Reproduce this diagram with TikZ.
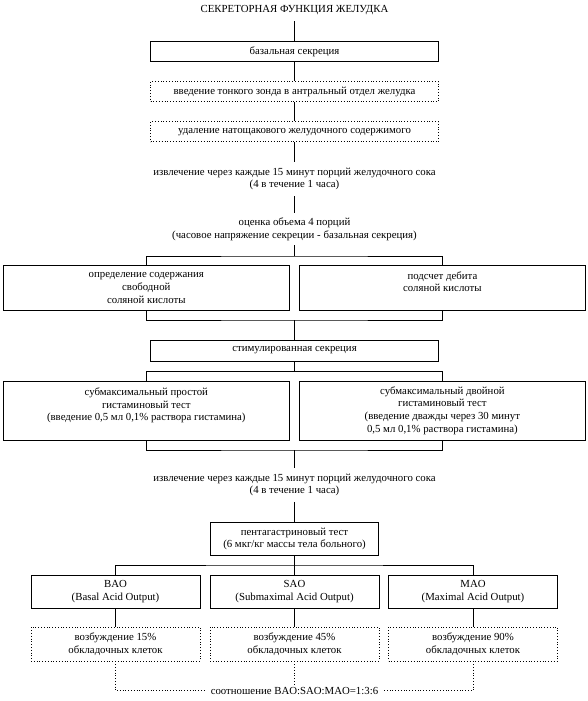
\documentclass[tikz,border=0pt]{standalone}
\usepackage{fontspec}
\setmainfont{Liberation Serif}
\usepackage{xcolor}
\definecolor{lineclr}{RGB}{0,0,0}
\tikzset{
  % Рамки
  boxsolid/.style  = {draw=lineclr, line width=0.8pt, align=center, inner sep=1pt},
  boxdot/.style    = {draw=lineclr, dotted, line width=0.8pt, align=center, inner sep=1pt},
  widebox/.style   = {minimum width=288pt, minimum height=20pt},
  halfbox/.style   = {minimum width=286.5pt},
  smallbox/.style  = {minimum width=169pt, minimum height=33pt},
  % Текст без рамки
  plain/.style     = {align=center, inner sep=0pt},
  % Соединительные линии
  link/.style      = {draw=lineclr, line width=0.8pt},
  linkdot/.style   = {draw=lineclr, line width=0.8pt, dotted},
}

\begin{document}
\begin{tikzpicture}[x=1pt, y=-1pt,
  every node/.style={font=\fontsize{10.8}{12.6}\selectfont}]
  \useasboundingbox (0,0) rectangle (588,701);
  % Заголовок и базальная секреция
  \node[plain, minimum height=21pt] (title) at (294.5,10.5) {СЕКРЕТОРНАЯ ФУНКЦИЯ ЖЕЛУДКА};
  \node[boxsolid, widebox] (basal) at (294.5,51.7) {базальная секреция};
  \node[boxdot, widebox] (probe) at (294.5,91.5) {введение тонкого зонда в антральный отдел желудка};
  \node[boxdot, widebox] (empty) at (294.5,131.7) {удаление натощакового желудочного содержимого};
  \node[plain, minimum height=34pt] (collectA) at (294.5,179)
    {извлечение через каждые 15 минут порций желудочного сока\\(4 в течение 1 часа)};
  \node[plain, minimum height=32pt] (volume) at (294.5,229)
    {оценка объема 4 порций\\(часовое напряжение секреции - базальная секреция)};
  \draw[link] (title) -- (basal) -- (probe) -- (empty) -- (collectA) -- (volume);
  % Свободная HCl и дебит
  \node[boxsolid, halfbox, minimum height=45.7pt] (freehcl) at (146.3,288)
    {определение содержания\\свободной\\соляной кислоты};
  \node[boxsolid, halfbox, minimum height=45.7pt] (debit) at (442.4,288)
    {подсчет дебита\\соляной кислоты\\~};
  \coordinate (splitA) at (294.5,256);
  \coordinate (joinA) at (294.5,320);
  \draw[link] (volume) -- (splitA);
  \draw[link] (freehcl.north) |- (splitA) -| (debit.north);
  \draw[link] (freehcl.south) |- (joinA) -| (debit.south);
  % Стимулированная секреция
  \node[boxsolid, widebox, minimum height=21pt] (stim) at (294.5,350.5) {стимулированная секреция};
  \draw[link] (joinA) -- (stim);
  \node[boxsolid, halfbox, minimum height=59pt] (histA) at (146.3,410.5)
    {субмаксимальный простой\\гистаминовый тест\\(введение 0,5 мл 0,1\% раствора гистамина)\\~};
  \node[boxsolid, halfbox, minimum height=59pt] (histB) at (442.4,410.5)
    {субмаксимальный двойной\\гистаминовый тест\\(введение дважды через 30 минут\\0,5 мл 0,1\% раствора гистамина)};
  \coordinate (splitB) at (294.5,371.7);
  \coordinate (joinB) at (294.5,450);
  \draw[link] (stim) -- (splitB);
  \draw[link] (histA.north) |- (splitB) -| (histB.north);
  \draw[link] (histA.south) |- (joinB) -| (histB.south);
  \node[plain, minimum height=33.4pt] (collectB) at (294.5,485)
    {извлечение через каждые 15 минут порций желудочного сока\\(4 в течение 1 часа)};
  \draw[link] (joinB) -- (collectB);
  % Пентагастриновый тест
  \node[boxsolid, minimum width=168pt, minimum height=33pt] (penta) at (294.5,539)
    {пентагастриновый тест\\(6 мкг/кг массы тела больного)};
  \draw[link] (collectB) -- (penta);
  \node[boxsolid, smallbox] (bao) at (115.5,591.5) {BAO\\(Basal Acid Output)};
  \node[boxsolid, smallbox] (sao) at (294.5,591.5) {SAO\\(Submaximal Acid Output)};
  \node[boxsolid, smallbox] (mao) at (473,591.5) {MAO\\(Maximal Acid Output)};
  \coordinate (splitC) at (294.5,565);
  \draw[link] (penta) -- (sao);
  \draw[link] (bao.north) |- (splitC) -| (mao.north);
  % Возбуждение обкладочных клеток
  \node[boxdot, smallbox, minimum height=34pt] (baoexc) at (115.5,644) {возбуждение 15\%\\обкладочных клеток};
  \node[boxdot, smallbox, minimum height=34pt] (saoexc) at (294.5,644) {возбуждение 45\%\\обкладочных клеток};
  \node[boxdot, smallbox, minimum height=34pt] (maoexc) at (473,644) {возбуждение 90\%\\обкладочных клеток};
  \draw[link] (bao) -- (baoexc);
  \draw[link] (sao) -- (saoexc);
  \draw[link] (mao) -- (maoexc);
  % Соотношение
  \node[plain, inner xsep=4pt, inner ysep=2pt] (ratio) at (294.5,690.7) {соотношение BAO:SAO:MAO=1:3:6};
  \draw[linkdot] (baoexc.south) |- (ratio.west);
  \draw[linkdot] (maoexc.south) |- (ratio.east);
  \draw[linkdot] (saoexc.south) -- (ratio.north);
\end{tikzpicture}
\end{document}
